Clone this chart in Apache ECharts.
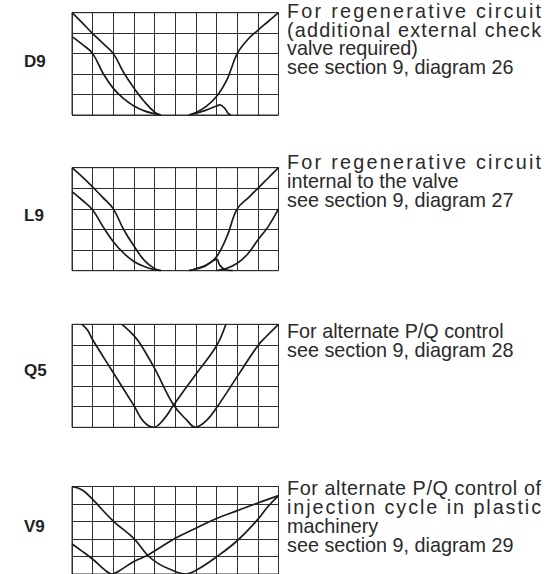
<!DOCTYPE html>
<html><head><meta charset="utf-8">
<script src="https://cdn.jsdelivr.net/npm/echarts@6/dist/echarts.min.js"></script>
<style>html,body{margin:0;padding:0;background:#fff}#c{width:553px;height:574px}</style>
</head><body><div id="c"></div>
<script>
// ---- data (x: 0..10 grid columns, y: 0..5 grid rows) ----
const d9Upper = [[0,5],[0.5,4.5],[1,3.98],[1.5,3.5],[2,3.0],[2.5,2.08],[3,1.32],[3.5,0.66],[4,0.14],[4.3,0]];
const d9Lower = [[0,3.83],[0.5,3.45],[1,3.0],[1.5,2.04],[2,1.3],[2.5,0.8],[3,0.44],[3.5,0.2],[4,0.06],[4.3,0]];
const d9Right = [[5.65,0],[6,0.12],[6.5,0.42],[7,0.9],[7.5,1.72],[8,3.0],[8.5,3.68],[9,4.14],[9.5,4.57],[10,5]];
const d9Bump  = [[5.7,0],[6.5,0.24],[7,0.44],[7.16,0.49],[7.4,0.32],[7.56,0.08],[7.7,0]];

const l9Upper = [[0,5],[0.5,4.55],[1,4.06],[1.5,3.55],[2,3.0],[2.5,2.0],[3,1.2],[3.5,0.5],[4,0.1],[4.3,0]];
const l9Lower = [[0,3.84],[0.5,3.42],[1,2.95],[1.5,2.14],[2,1.41],[2.5,0.85],[3,0.45],[3.5,0.2],[4,0.05],[4.3,0]];
const l9Right = [[5.65,0],[6,0.08],[6.4,0.2],[7,0.68],[7.5,1.65],[8,3.0],[8.6,3.6],[9,4.0],[9.5,4.5],[10,5]];
const l9Right2= [[7,0],[7.5,0.12],[8,0.36],[8.5,0.8],[9,1.49],[9.5,2.14],[10,3.0]];
const l9Bump  = [[5.7,0],[6.5,0.28],[6.9,0.52],[7.02,0.55],[7.15,0.28],[7.4,0.05],[7.8,0]];

const q5Left  = [[0.48,5],[0.75,4.72],[1,4.25],[2,2.65],[3,1.05],[3.45,0.3],[3.95,0],[4.45,0.4],[4.92,1.08],[6,2.58],[7,3.96],[7.45,5]];
const q5Right = [[2.42,5],[3,4.45],[3.37,3.95],[4,2.86],[4.92,1.08],[5.56,0.35],[5.97,0],[6.53,0.35],[7,0.95],[8,2.46],[9,3.96],[9.42,4.42],[10,5]];

const v9Down  = [[0,5],[0.5,4.8],[1,4.26],[2,3.02],[3,2.02],[3.66,1.07],[4.2,0.58],[4.77,0.26],[5.5,0],[6.05,0.24],[7,0.98],[8,1.9],[9,3.12],[9.45,3.8],[10,4.48]];
const v9Cross = [[0,1.71],[0.48,1.31],[1.05,0.8],[1.6,0.22],[1.95,0],[2.33,0.22],[3,0.71],[3.66,1.07],[5,2.04],[6,2.62],[7,3.17],[8,3.62],[9,4.06],[10,4.48]];

const panelLabels = ['D9','L9','Q5','V9'];
const panelNotes = [
  ['For regenerative circuit','(additional external check','valve required)','see section 9, diagram 26'],
  ['For regenerative circuit','internal to the valve','see section 9, diagram 27'],
  ['For alternate P/Q control','see section 9, diagram 28'],
  ['For alternate P/Q control of','injection cycle in plastic','machinery','see section 9, diagram 29']
];
const justifiedLines = ['For regenerative circuit','(additional external check','For alternate P/Q control of','injection cycle in plastic'];
const panelSeries = [[d9Upper,d9Lower,d9Right,d9Bump],[l9Upper,l9Lower,l9Right,l9Right2,l9Bump],[q5Left,q5Right],[v9Down,v9Cross]];

// ---- layout ----
const grids = [
  {left:72, top:12.7, width:206.5, height:102.3},
  {left:72, top:167.7, width:206.5, height:103},
  {left:72, top:324.3, width:206.5, height:103},
  {left:72, top:486.5, width:206.5, height:91.5}
];
const labelY = [61, 215, 370, 526];
const noteTop = [1.5, 152.9, 321.6, 479.1];
const LINE_H = 18.7;
const FONT = '"Liberation Sans", Arial, Helvetica, sans-serif';
const GRID_COLOR = '#2e2e2e';
const CURVE_COLOR = '#1c1c1c';

const chart = echarts.init(document.getElementById('c'), null, {renderer:'svg'});
const option = {
  animation:false,
  backgroundColor:'#fff',
  grid: grids.map(g => Object.assign({show:true, borderColor:GRID_COLOR, borderWidth:1, backgroundColor:'transparent'}, g)),
  xAxis: grids.map((g,i) => ({type:'value', gridIndex:i, min:0, max:10, interval:1,
    axisLine:{show:false}, axisTick:{show:false}, axisLabel:{show:false},
    splitLine:{show:true, lineStyle:{color:GRID_COLOR, width:1}}})),
  yAxis: grids.map((g,i) => ({type:'value', gridIndex:i, min:0, max:5, interval:1,
    axisLine:{show:false}, axisTick:{show:false}, axisLabel:{show:false},
    splitLine:{show:true, lineStyle:{color:GRID_COLOR, width:1}}})),
  series: [],
  graphic: []
};
panelSeries.forEach((list,i) => list.forEach(data => option.series.push({
  type:'line', xAxisIndex:i, yAxisIndex:i, data:data, smooth:0.4, showSymbol:false,
  silent:true, lineStyle:{color:CURVE_COLOR, width:1.7}
})));
panelLabels.forEach((t,i) => option.graphic.push({type:'text', x:24, y:labelY[i],
  style:{text:t, font:'bold 17px ' + FONT, fill:'#222', verticalAlign:'middle', align:'left'}}));
panelNotes.forEach((lines,i) => option.graphic.push({type:'text', x:287, y:noteTop[i],
  style:{text:lines.join('\n'), font:'19.8px ' + FONT, lineHeight:LINE_H, fill:'#2a2a2a', verticalAlign:'top', align:'left'}}));
chart.setOption(option);

function justify(){
  const target = 254;
  chart.getDom().querySelectorAll('text, tspan').forEach(node => {
    const s = node.textContent;
    if (justifiedLines.indexOf(s) < 0) return;
    node.removeAttribute('letter-spacing');
    const natural = node.getComputedTextLength();
    const ls = (target - natural) / (s.length - 1);
    node.setAttribute('letter-spacing', ls.toFixed(2) + 'px');
  });
}
chart.getZr().flush();
justify();
chart.on('finished', justify);
</script></body></html>
